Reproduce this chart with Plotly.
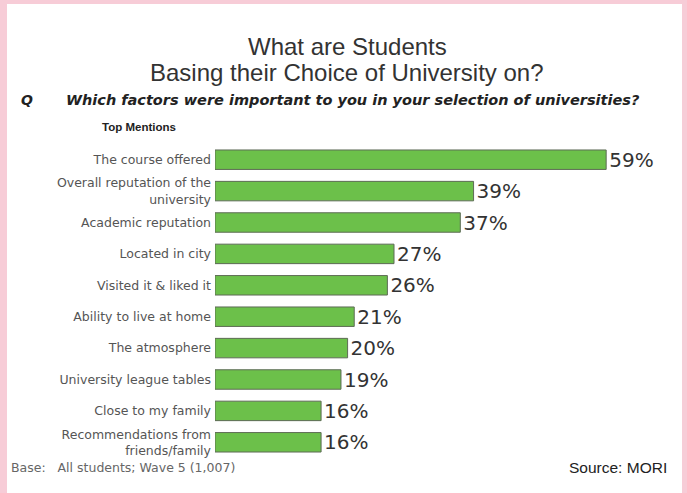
import plotly.graph_objects as go

# Survey factors (top to bottom) and share of mentions, %
factors = [
    "The course offered",
    "Overall reputation of the<br>university",
    "Academic reputation",
    "Located in city",
    "Visited it & liked it",
    "Ability to live at home",
    "The atmosphere",
    "University league tables",
    "Close to my family",
    "Recommendations from<br>friends/family",
]
mentions = [59, 39, 37, 27, 26, 21, 20, 19, 16, 16]

title_lines = ["What are Students", "Basing their Choice of University on?"]
question = "Which factors were important to you in your selection of universities?"

W, H = 687, 493
L, R, T, B = 215, 17, 144, 35
PW, PH = W - L - R, H - T - B


def px_x(x):
    return (x - L) / PW


def px_y(y):
    return (H - B - y) / PH


fig = go.Figure(
    go.Bar(
        x=mentions,
        y=factors,
        orientation="h",
        marker=dict(color="#6cc04a", line=dict(color="#5d6b55", width=1)),
        text=[f"{v}%" for v in mentions],
        textposition="outside",
        constraintext="none",
        cliponaxis=False,
        textfont=dict(family="DejaVu Sans", size=20, color="#333333"),
        hoverinfo="skip",
    )
)

annotations = [
    dict(text=title_lines[0], x=px_x(347), y=px_y(46), xanchor="center", yanchor="middle",
         font=dict(family="Liberation Sans", size=24, color="#333333")),
    dict(text=title_lines[1], x=px_x(347), y=px_y(73), xanchor="center", yanchor="middle",
         font=dict(family="Liberation Sans", size=24, color="#333333")),
    dict(text="<b><i>Q</i></b>", x=px_x(19), y=px_y(100), xanchor="left", yanchor="middle",
         font=dict(family="DejaVu Sans", size=14, color="#222222")),
    dict(text=f"<b><i>{question}</i></b>",
         x=px_x(64), y=px_y(100), xanchor="left", yanchor="middle",
         font=dict(family="DejaVu Sans", size=14.5, color="#222222")),
    dict(text="<b>Top Mentions</b>", x=px_x(100), y=px_y(127), xanchor="left", yanchor="middle",
         font=dict(family="Liberation Sans", size=11.5, color="#222222")),
    dict(text="Base:   All students; Wave 5 (1,007)", x=px_x(9), y=px_y(467),
         xanchor="left", yanchor="middle",
         font=dict(family="DejaVu Sans", size=12.5, color="#666666")),
    dict(text="Source: MORI", x=px_x(669), y=px_y(467), xanchor="right", yanchor="middle",
         font=dict(family="Liberation Sans", size=15.5, color="#222222")),
]
for a in annotations:
    a.update(xref="paper", yref="paper", showarrow=False)

fig.update_layout(
    width=W,
    height=H,
    margin=dict(l=L, r=R, t=T, b=B),
    paper_bgcolor="#f7ccd7",
    plot_bgcolor="rgba(0,0,0,0)",
    bargap=0.38,
    showlegend=False,
    annotations=annotations,
    shapes=[
        dict(type="rect", xref="paper", yref="paper", layer="below",
             x0=px_x(7), x1=px_x(682), y0=px_y(H + 5), y1=px_y(4),
             fillcolor="white", line=dict(width=0)),
    ],
    xaxis=dict(range=[0, PW / 6.63], visible=False, fixedrange=True),
    yaxis=dict(
        autorange="reversed",
        showgrid=False,
        zeroline=False,
        showline=False,
        ticks="",
        ticklabelstandoff=3,
        tickfont=dict(family="DejaVu Sans", size=12.5, color="#555555"),
        fixedrange=True,
    ),
)

fig.write_html("out.html")
